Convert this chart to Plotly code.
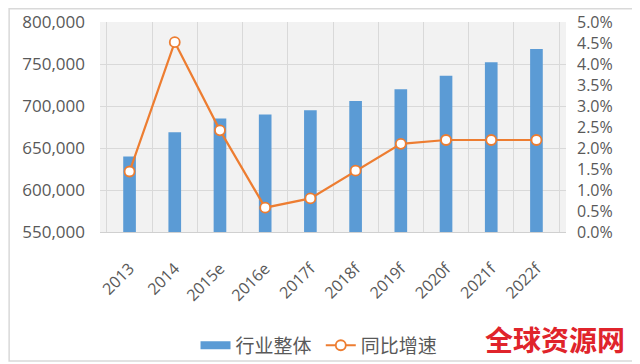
import plotly.graph_objects as go

categories = ["2013", "2014", "2015e", "2016e", "2017f", "2018f", "2019f", "2020f", "2021f", "2022f"]
industry_total = [640000, 668800, 685000, 690000, 695000, 706000, 720000, 736000, 752000, 768000]
yoy_growth = [1.44, 4.52, 2.42, 0.58, 0.80, 1.46, 2.10, 2.19, 2.19, 2.19]

left_ticks = [550000, 600000, 650000, 700000, 750000, 800000]
right_ticks = [0, 0.5, 1.0, 1.5, 2.0, 2.5, 3.0, 3.5, 4.0, 4.5, 5.0]

FONT = "Open Sans, Liberation Sans, Noto Sans CJK SC, sans-serif"
GRAY = "#595959"
BLUE = "#5B9BD5"
ORANGE = "#ED7D31"

fig = go.Figure()
fig.add_trace(go.Bar(
    x=categories, y=industry_total, name="行业整体",
    marker=dict(color=BLUE, line=dict(width=0)),
    yaxis="y", showlegend=False,
))
# legend-only entry drawn as a wide bar swatch
fig.add_trace(go.Scatter(
    x=[None], y=[None], name="行业整体 ", mode="lines",
    line=dict(color=BLUE, width=8), yaxis="y",
))
fig.add_trace(go.Scatter(
    x=categories, y=yoy_growth, name="同比增速", mode="lines+markers",
    line=dict(color=ORANGE, width=2.2),
    marker=dict(symbol="circle", size=10, color="white", line=dict(color=ORANGE, width=1.8)),
    yaxis="y2",
))

fig.update_layout(
    width=632, height=356,
    margin=dict(l=92, r=74, t=14, b=132, autoexpand=False),
    paper_bgcolor="white",
    plot_bgcolor="#f2f2f2",
    bargap=0.72,
    font=dict(family=FONT, color=GRAY),
    showlegend=True,
    legend=dict(orientation="h", x=0.47, xanchor="center", y=-0.54, yanchor="middle",
                font=dict(size=19, color=GRAY, family="Noto Sans CJK SC"),
                traceorder="normal", bgcolor="rgba(0,0,0,0)"),
    xaxis=dict(
        type="category", tickson="boundaries", showgrid=True, gridcolor="#d9d9d9",
        tickangle=-45, tickfont=dict(size=16, color=GRAY), ticks="",
        showline=True, linecolor="#d0d0d0", linewidth=1, automargin=False,
        ticklabelstandoff=20,
    ),
    yaxis=dict(
        range=[550000, 800000], tickvals=left_ticks, tickformat=",d",
        showgrid=True, gridcolor="#d9d9d9", tickfont=dict(size=17, color=GRAY),
        zeroline=False, ticks="", automargin=False, ticklabelstandoff=14,
    ),
    yaxis2=dict(
        range=[0, 5.0], tickvals=right_ticks,
        ticktext=[f"{v:.1f}%" for v in right_ticks],
        overlaying="y", side="right", showgrid=False, zeroline=False,
        tickfont=dict(size=16, color=GRAY), ticks="", automargin=False,
        ticklabelstandoff=10,
    ),
    shapes=[dict(type="rect", xref="paper", yref="paper",
                 x0=-0.195, x1=1.148, y0=-0.614, y1=1.063,
                 line=dict(color="#d9d9d9", width=1.5), layer="below")],
    annotations=[dict(text="<b>全球资源网</b>", xref="paper", yref="paper",
                      x=1.131, y=-0.51, xanchor="right", yanchor="middle", showarrow=False,
                      font=dict(size=28, color="#E0242B", family="Noto Sans CJK SC"))],
)

fig.write_html("out.html")
